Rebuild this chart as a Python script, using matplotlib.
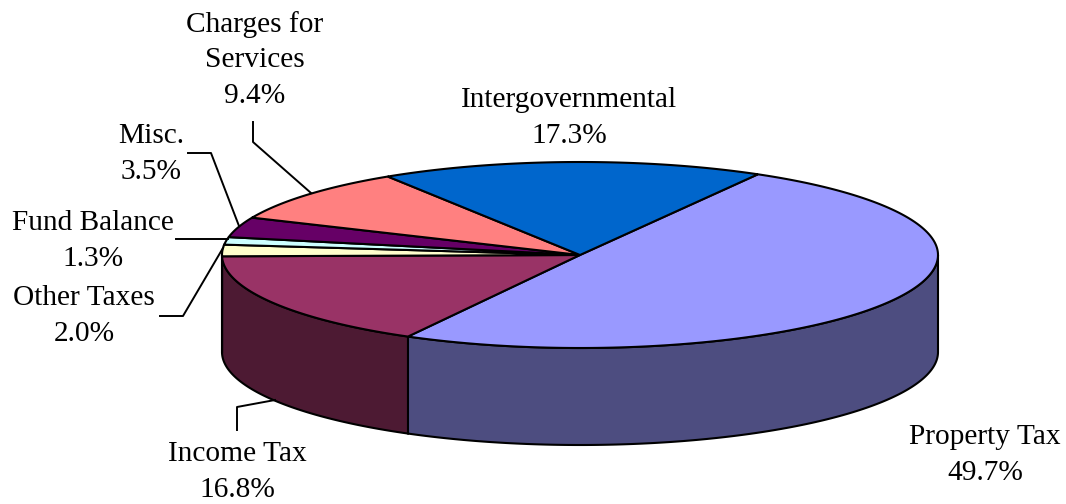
import numpy as np
import matplotlib
matplotlib.use('Agg')
from matplotlib import pyplot as plt

# data
labels = ['Property Tax', 'Income Tax', 'Other Taxes', 'Fund Balance', 'Misc.',
          'Charges for\nServices', 'Intergovernmental']
values = [49.7, 16.8, 2.0, 1.3, 3.5, 9.4, 17.3]
top_colors = ['#9999FF', '#993366', '#FFFFCC', '#CCFFFF', '#660066', '#FF8080', '#0066CC']
side_colors = ['#4D4D80', '#4D1A33', '#808066', '#668080', '#330033', '#804040', '#003366']

# pie geometry in pixels
cx, cy = 580, 255
rx, ry = 358, 93
depth = 97
start = 60.2

plt.rcParams['font.family'] = ['Liberation Serif', 'DejaVu Serif']
fig = plt.figure(figsize=(10.66, 5.04), dpi=100)
ax = fig.add_axes([0, 0, 1, 1])
ax.set_xlim(0, 1066)
ax.set_ylim(504, 0)
ax.axis('off')


def rim(a0, a1):
    t = np.radians(np.linspace(a0, a1, 200))
    return cx + rx * np.cos(t), cy - ry * np.sin(t)


# angles go clockwise from the start angle
edges = start - np.cumsum([0] + values) * 3.6

# side walls, only the front half of the ellipse shows
for i in range(len(values)):
    a0, a1 = edges[i], edges[i + 1]
    lo, hi = max(a1, -180), min(a0, 0)
    if lo >= hi:
        continue
    x, y = rim(hi, lo)
    ax.fill(np.r_[x, x[::-1]], np.r_[y, y[::-1] + depth], fc=side_colors[i], ec='black', lw=1.5, zorder=2)

# top of the pie
for i in range(len(values)):
    x, y = rim(edges[i], edges[i + 1])
    ax.fill(np.r_[cx, x], np.r_[cy, y], fc=top_colors[i], ec='black', lw=1.5, zorder=3)

# labels
label_pos = [(985, 455), (237, 472), (84, 316), (93, 241), (151, 154), (255, 60), (569, 118)]
for lab, val, (tx, ty) in zip(labels, values, label_pos):
    ax.text(tx, ty, '%s\n%.1f%%' % (lab, val), ha='center', va='center', fontsize=21.2,
            linespacing=1.48, color='black', zorder=5)

# leader lines
leaders = [
    [(253, 122), (253, 142), (311, 193)],
    [(188, 153), (211, 153), (239, 226)],
    [(176, 239), (228, 239)],
    [(160, 316), (183, 316), (223, 248)],
    [(237, 430), (237, 407), (275, 400)],
]
for pts in leaders:
    ax.plot(*zip(*pts), color='black', lw=1.4, zorder=4)

fig.savefig('out.png', dpi=100)
